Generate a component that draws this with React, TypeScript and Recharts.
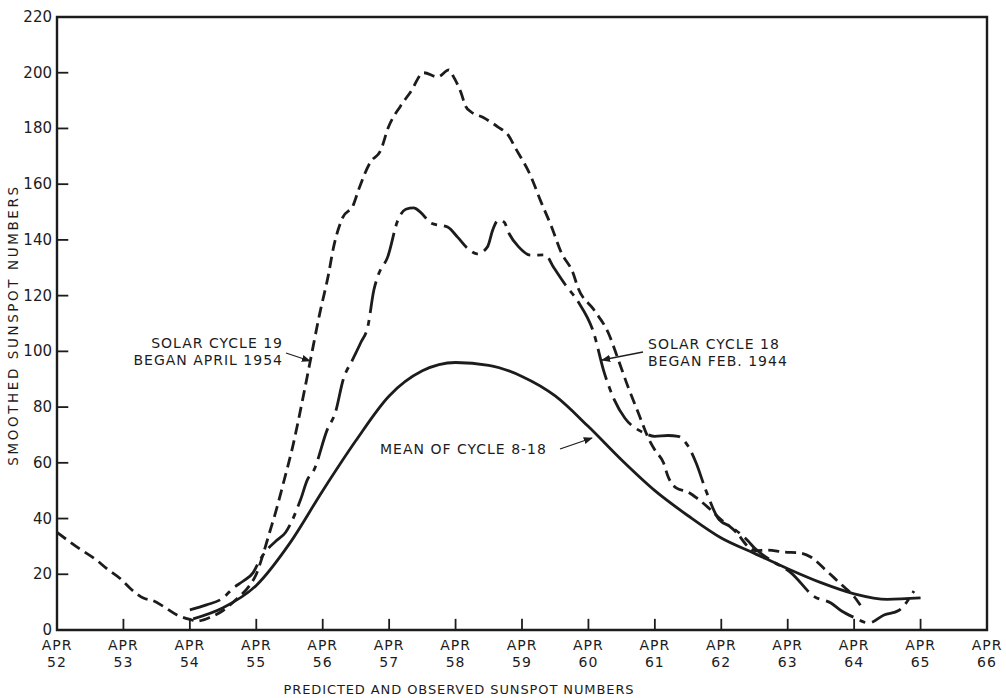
import React from "react";
import { LineChart, Line, XAxis, YAxis, ReferenceArea, ReferenceLine } from "recharts";

// x values are years on the chart axis (52 = APR 1952), y values are smoothed sunspot numbers
const yearTicks = [52, 53, 54, 55, 56, 57, 58, 59, 60, 61, 62, 63, 64, 65, 66];
const valueTicks = [0, 20, 40, 60, 80, 100, 120, 140, 160, 180, 200, 220];

// mean of cycles 8-18 (solid)
const meanCycle: [number, number][] = [
  [54.05, 4], [54.5, 8], [55.0, 16], [55.5, 31], [56.0, 50], [56.5, 68],
  [57.0, 84], [57.5, 93], [58.0, 96], [58.5, 95], [59.0, 91], [59.5, 84],
  [60.0, 73], [60.5, 61], [61.0, 50], [61.5, 41], [62.0, 33], [62.5, 27.5],
  [63.0, 22], [63.5, 17], [64.0, 13], [64.5, 11], [65.0, 11.5],
];

// solar cycle 19, observed (short dashes)
const cycle19: [number, number][] = [
  [52.0, 35], [52.35, 29], [52.6, 25], [52.75, 22], [52.95, 18.5], [53.1, 15],
  [53.3, 11.5], [53.45, 10.5], [53.6, 8.5], [53.8, 5.5], [54.0, 3.8], [54.1, 3.2],
  [54.3, 4.5], [54.5, 7], [54.7, 11], [54.9, 16], [55.0, 20], [55.1, 27],
  [55.2, 35], [55.3, 43], [55.4, 52], [55.55, 66], [55.7, 83], [55.8, 95],
  [55.95, 113], [56.09, 128], [56.16, 137], [56.3, 148], [56.46, 152.5],
  [56.54, 158], [56.72, 168], [56.87, 172], [56.99, 180.5], [57.17, 188],
  [57.32, 193], [57.52, 200], [57.73, 198.5], [57.9, 201], [57.97, 198.5],
  [58.08, 193], [58.15, 188], [58.23, 186], [58.41, 184], [58.64, 180.5],
  [58.79, 177.7], [58.9, 173], [59.13, 163], [59.28, 154], [59.44, 145],
  [59.59, 135.5], [59.77, 128], [59.84, 123], [60.08, 115], [60.3, 106.6],
  [60.45, 97], [60.6, 87], [60.75, 78], [60.9, 69], [61.0, 64.6], [61.13, 60],
  [61.2, 55], [61.32, 51], [61.5, 49.5], [61.65, 47], [61.8, 44], [62.0, 39.5],
  [62.1, 37.7], [62.23, 35], [62.4, 30], [62.51, 28.5], [62.7, 28.7],
  [62.93, 28], [63.2, 27.6], [63.36, 26], [63.55, 22], [63.7, 18.7],
  [63.85, 15.4], [64.0, 12], [64.11, 8.3],
];

// solar cycle 18, shifted to start APR 54 (long dash / dot)
const cycle18: [number, number][] = [
  [54.0, 7.2], [54.25, 9], [54.5, 11.5], [54.65, 15], [54.8, 17.5],
  [54.95, 20.5], [55.05, 25], [55.17, 29], [55.3, 32], [55.44, 35],
  [55.67, 47], [55.77, 54], [55.86, 57], [56.07, 72], [56.19, 78],
  [56.31, 90], [56.45, 97], [56.57, 103], [56.68, 109], [56.77, 122],
  [56.83, 127], [56.98, 134], [57.13, 147], [57.25, 151], [57.37, 151.5],
  [57.47, 150], [57.63, 146], [57.88, 144.6], [58.03, 141], [58.18, 137],
  [58.33, 135], [58.48, 137.5], [58.56, 143.6], [58.64, 147], [58.73, 146.4],
  [58.8, 142.5], [58.95, 137.5], [59.13, 134.5], [59.35, 134.6], [59.48, 130],
  [59.65, 124], [59.84, 118], [60.08, 106.6], [60.23, 93], [60.39, 82.6],
  [60.55, 76], [60.75, 71.8], [60.84, 70.7], [61.0, 69.5], [61.2, 69.8],
  [61.35, 69.5], [61.5, 66], [61.62, 60], [61.77, 50], [61.97, 39.5],
  [62.15, 37], [62.4, 32], [62.5, 29.4], [62.75, 25], [63.05, 20.5],
  [63.4, 12], [63.65, 9.7], [63.8, 7], [64.0, 4.5], [64.22, 2.5],
  [64.45, 5.4], [64.67, 7], [64.9, 14],
];

const toRows = (pts: [number, number][]) => pts.map(([x, y]) => ({ x, y }));

const INK = "#1c1c1c";
const FONT = "'DejaVu Sans', sans-serif";
// inward tick mark length, in axis units (about 11px each way)
const X_TICK_LEN = 0.17;
const Y_TICK_LEN = 4;

const YTick = (props: any) => {
  const { x, y, payload } = props;
  return (
    <text x={x - 5} y={y + 5} textAnchor="end" fontSize={15} fill={INK} fontFamily={FONT}>
      {payload.value}
    </text>
  );
};

const XTick = (props: any) => {
  const { x, y, payload } = props;
  return (
    <g>
      <text x={x} y={y + 20} textAnchor="middle" fontSize={14} letterSpacing={1} fill={INK} fontFamily={FONT}>
        APR
      </text>
      <text x={x} y={y + 37} textAnchor="middle" fontSize={14} letterSpacing={1} fill={INK} fontFamily={FONT}>
        {payload.value}
      </text>
    </g>
  );
};

export default function App() {
  const textStyle = { fontFamily: FONT, fill: INK, fontSize: 14, letterSpacing: 1 } as any;
  return (
    <div style={{ position: "absolute", left: 0, top: 0, width: 1006, height: 698, background: "#fff" }}>
      <LineChart width={1006} height={698} margin={{ top: 17, right: 19, bottom: 0, left: 0 }}>
        <XAxis
          type="number"
          dataKey="x"
          domain={[52, 66]}
          ticks={yearTicks}
          axisLine={false}
          tickLine={false}
          tickSize={0}
          tickMargin={0}
          height={68}
          tick={<XTick />}
          interval={0}
          allowDuplicatedCategory={false}
        />
        <YAxis
          type="number"
          domain={[0, 220]}
          ticks={valueTicks}
          axisLine={false}
          tickLine={false}
          tickSize={0}
          tickMargin={0}
          width={57}
          tick={<YTick />}
          interval={0}
        />
        <ReferenceArea x1={52} x2={66} y1={0} y2={220} fill="none" stroke={INK} strokeWidth={2.4} fillOpacity={0} />
        {valueTicks.slice(1, -1).map((v) => (
          <ReferenceLine
            key={`yt-${v}`}
            segment={[{ x: 52, y: v }, { x: 52 + X_TICK_LEN, y: v }]}
            stroke={INK}
            strokeWidth={1.8}
            ifOverflow="visible"
          />
        ))}
        {yearTicks.slice(1, -1).map((v) => (
          <ReferenceLine
            key={`xt-${v}`}
            segment={[{ x: v, y: 0 }, { x: v, y: Y_TICK_LEN }]}
            stroke={INK}
            strokeWidth={1.8}
            ifOverflow="visible"
          />
        ))}
        <Line
          data={toRows(meanCycle)}
          dataKey="y"
          type="monotone"
          stroke={INK}
          strokeWidth={2.8}
          dot={false}
          isAnimationActive={false}
        />
        <Line
          data={toRows(cycle19)}
          dataKey="y"
          type="monotone"
          stroke={INK}
          strokeWidth={2.8}
          strokeDasharray="11 6"
          dot={false}
          isAnimationActive={false}
        />
        <Line
          data={toRows(cycle18)}
          dataKey="y"
          type="monotone"
          stroke={INK}
          strokeWidth={2.8}
          strokeDasharray="32 7 6 7"
          dot={false}
          isAnimationActive={false}
        />
      </LineChart>
      <svg width={1006} height={698} style={{ position: "absolute", left: 0, top: 0, pointerEvents: "none" }}>
        <defs>
          <marker id="head" viewBox="0 0 10 10" refX="9" refY="5" markerWidth="7" markerHeight="7" orient="auto">
            <path d="M0,1 L10,5 L0,9 Z" fill={INK} />
          </marker>
        </defs>
        <text x={283} y={348} textAnchor="end" {...textStyle}>SOLAR CYCLE 19</text>
        <text x={283} y={365} textAnchor="end" {...textStyle}>BEGAN APRIL 1954</text>
        <line x1={286} y1={353} x2={310} y2={361} stroke={INK} strokeWidth={1.3} markerEnd="url(#head)" />

        <text x={648} y={349} {...textStyle}>SOLAR CYCLE 18</text>
        <text x={648} y={366} {...textStyle}>BEGAN FEB. 1944</text>
        <line x1={643} y1={352} x2={602} y2={360} stroke={INK} strokeWidth={1.3} markerEnd="url(#head)" />

        <text x={380} y={454} {...textStyle}>MEAN OF CYCLE 8-18</text>
        <line x1={560} y1={449} x2={592} y2={438} stroke={INK} strokeWidth={1.3} markerEnd="url(#head)" />

        <text
          x={0}
          y={0}
          transform="translate(18,325) rotate(-90)"
          textAnchor="middle"
          style={{ fontFamily: FONT, fill: INK, fontSize: 13.5, letterSpacing: 2.6 } as any}
        >
          SMOOTHED SUNSPOT NUMBERS
        </text>
        <text
          x={459}
          y={694}
          textAnchor="middle"
          style={{ fontFamily: FONT, fill: INK, fontSize: 13, letterSpacing: 0.9 } as any}
        >
          PREDICTED AND OBSERVED SUNSPOT NUMBERS
        </text>
      </svg>
    </div>
  );
}
